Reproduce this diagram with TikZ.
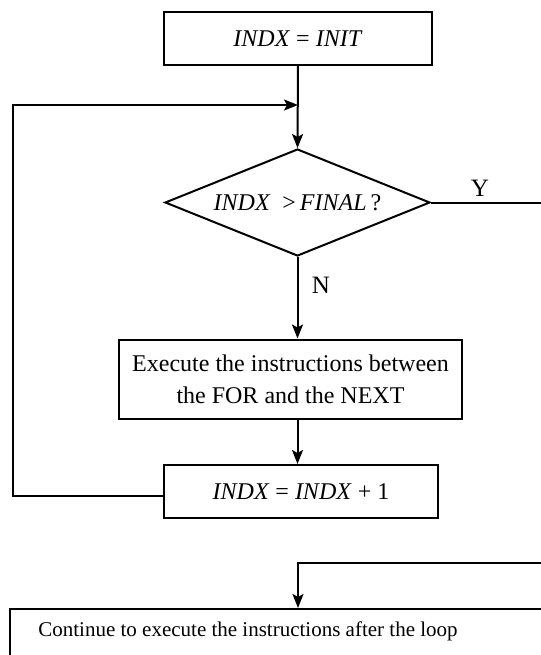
\documentclass[tikz,border=0pt]{standalone}
\usepackage{fontspec}
\setmainfont{Liberation Serif}
\usetikzlibrary{shapes.geometric,arrows.meta}

\begin{document}
\begin{tikzpicture}[x=0.5pt,y=-0.5pt,line width=1pt,
  box/.style={draw,rectangle,inner sep=0pt,align=center,font=\fontsize{12}{16}\selectfont},
  test/.style={draw,diamond,aspect=2.48,inner sep=0pt,minimum width=132.5pt,minimum height=53.5pt,font=\fontsize{12}{16}\selectfont},
  flow/.style={-{Stealth[length=7pt,width=5.5pt,inset=1.5pt]}},
  tag/.style={font=\fontsize{12.5}{16}\selectfont}]
  \useasboundingbox (0,0) rectangle (541,655);
  \clip (0,0) rectangle (541,655);
  \node[box,minimum width=134pt,minimum height=26.5pt] (init) at (298,38.5) {\textit{INDX} = \textit{INIT}};
  \node[test] (cmp) at (297.5,202.5) {\textit{INDX}\ \ >\,\textit{FINAL}\,?};
  \node[box,minimum width=171.5pt,minimum height=39.5pt] (body) at (290.5,379) {Execute the instructions between\\the FOR and the NEXT};
  \node[box,minimum width=137pt,minimum height=26.5pt] (incr) at (301,491.5) {\textit{INDX} = \textit{INDX} + 1};
  \node[draw,rectangle,anchor=north west,minimum width=320pt,minimum height=60pt] (after) at (8.6,608) {};
  \node[font=\fontsize{10.5}{12}\selectfont] (afterlabel) at (248,631) {Continue to execute the instructions after the loop};
  \node[tag] (ylabel) at (480,188) {Y};
  \node[tag] (nlabel) at (321,285) {N};
  \coordinate (join) at (init.south |- 0,105);
  \coordinate (lcorner) at (12.5,105);
  \coordinate (rcorner) at (560,202.5);
  \coordinate (drop) at (init.south |- 0,563);
  \draw[flow] (init.south) -- (cmp.north);
  \draw[flow] (cmp.south) -- (cmp.south |- body.north);
  \draw[flow] (cmp.south |- body.south) -- (cmp.south |- incr.north);
  \draw[flow] ([yshift=-2.25pt]incr.west) -| (lcorner) -- (join);
  \draw[flow] (cmp.east) -- (rcorner) |- (drop) -- (drop |- after.north);
\end{tikzpicture}
\end{document}
